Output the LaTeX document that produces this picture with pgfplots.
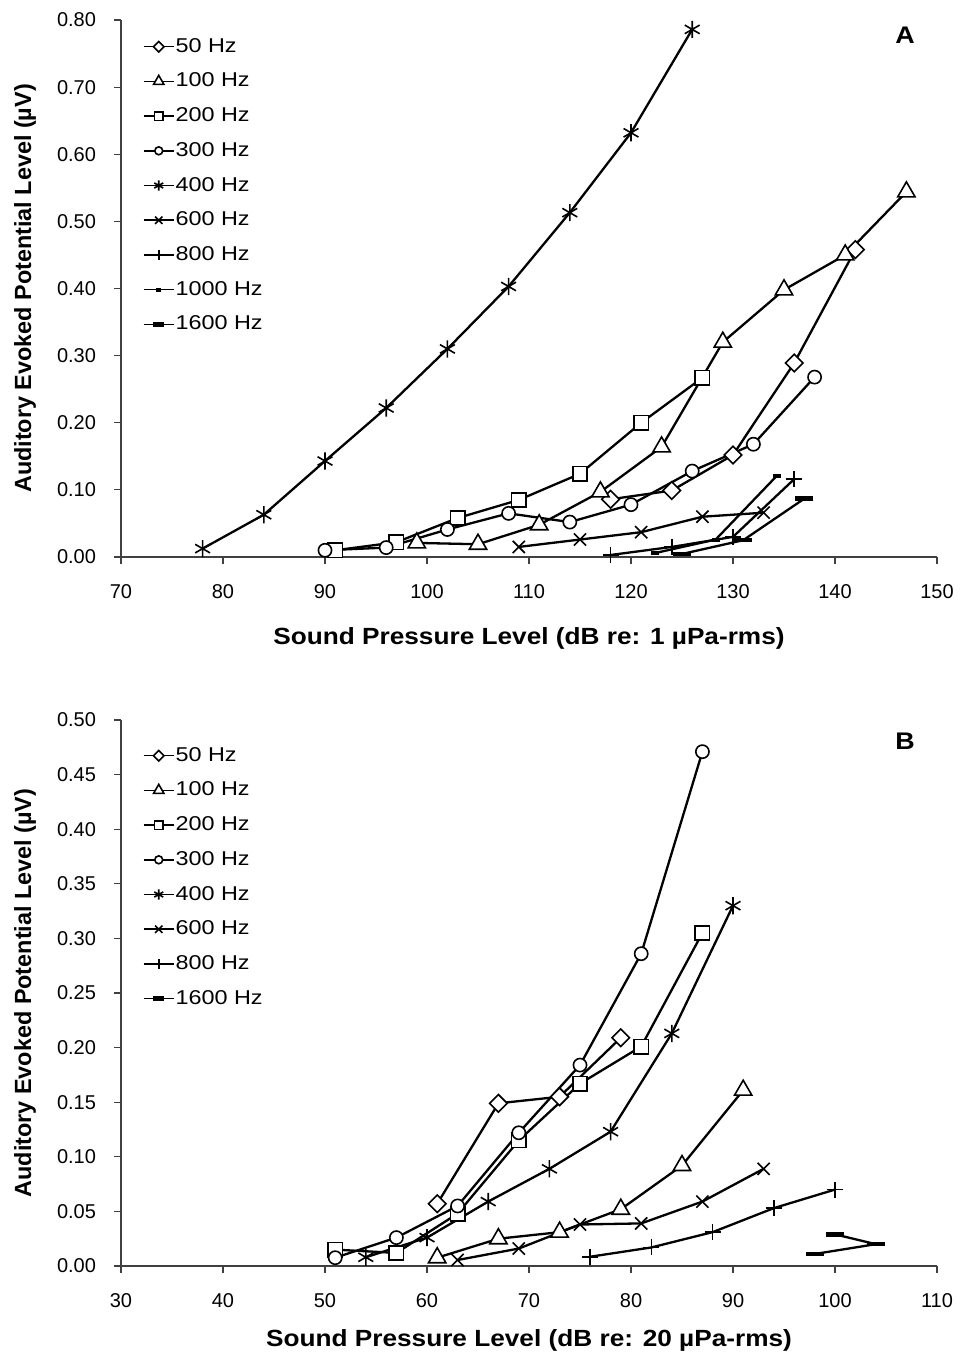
\documentclass[border=0pt]{standalone}
\usepackage{pgfplots}
\pgfplotsset{compat=1.18}
\usepackage{fontspec}
\setmainfont{Liberation Sans}
\newfontfamily\legfont{Liberation Sans}[FakeStretch=1.17]
\newfontfamily\labfont{Liberation Sans}[FakeStretch=1.12]

\pgfplotsset{
  base/.style={
    scale only axis, width=408pt,
    axis x line=bottom, axis y line=left,
    axis line style={-, black!75, line width=0.6pt},
    tick style={black!75, line width=0.6pt},
    tick align=outside, major tick length=3.5pt,
    font=\fontsize{10}{12}\selectfont,
    /pgf/number format/assume math mode=true,
    yticklabel style={xshift=-5.5pt, /pgf/number format/.cd, fixed, fixed zerofill, precision=2},
    xticklabel style={yshift=-6.5pt, /pgf/number format/.cd, fixed},
    every axis y label/.style={at={(axis description cs:-0.1176,0.5)}, rotate=90, anchor=center, font=\fontsize{11.7}{13}\selectfont\bfseries},
    every axis x label/.style={anchor=center, font=\labfont\fontsize{11.7}{13}\selectfont\bfseries},
    legend cell align=left,
    legend style={draw=none, fill=none, inner sep=0pt, outer sep=0pt, anchor=north west,
      font=\legfont\fontsize{10}{12}\selectfont, row sep=6.85pt,
      nodes={inner sep=0.5pt, text height=7.5pt, text depth=2pt}},
    legend image code/.code={
      \draw[line width=0.75pt, mark repeat=2, mark phase=2, every mark/.append style={scale=0.6}]
        plot coordinates {(0pt,0pt) (7.5pt,0pt) (15pt,0pt)};},
    every axis plot/.append style={black, line width=1.15pt},
  },
  s50/.style={mark=square*, mark size=3.1pt, mark options={solid, rotate=45, fill=white, line width=0.8pt}},
  s100/.style={mark=triangle*, mark size=5pt, mark options={solid, fill=white, line width=0.8pt}},
  s200/.style={mark=square*, mark size=3.6pt, mark options={solid, fill=white, line width=0.8pt}},
  s300/.style={mark=*, mark size=3.3pt, mark options={solid, fill=white, line width=0.8pt}},
  s400/.style={mark=asterisk, mark size=4.3pt, mark options={solid, line width=0.8pt}},
  s600/.style={mark=x, mark size=4.3pt, mark options={solid, line width=0.8pt}},
  s800/.style={mark=+, mark size=4pt, mark options={solid, line width=0.8pt}},
  s1000/.style={mark=-, mark size=2pt, mark options={solid, line width=2pt}},
  s1600/.style={mark=-, mark size=4.5pt, mark options={solid, line width=2.2pt}},
}

\begin{document}
\begin{tikzpicture}
% ---------------- Panel A ----------------
\begin{axis}[base, at={(0,0)}, anchor=south west, height=268.5pt,
  xmin=70, xmax=150, ymin=0, ymax=0.8,
  xtick={70,80,...,150}, ytick={0,0.1,...,0.8},
  xlabel={Sound Pressure Level (dB re: 1 µPa-rms)},
  ylabel={Auditory Evoked Potential Level (µV)},
  xlabel style={at={(axis description cs:0.5,-0.1508)}},
  legend style={at={(axis description cs:0,1)}, xshift=11pt, yshift=-8.1pt},
]
\addplot[s50] coordinates {(118,0.086)(124,0.099)(130,0.152)(136,0.289)(142,0.458)};
\addlegendentry{50 Hz}
\addplot[s100] coordinates {(99,0.021)(105,0.019)(111,0.048)(117,0.097)(123,0.164)(129,0.320)(135,0.398)(141,0.450)(147,0.544)};
\addlegendentry{100 Hz}
\addplot[s200] coordinates {(91,0.010)(97,0.022)(103,0.058)(109,0.085)(115,0.124)(121,0.200)(127,0.267)};
\addlegendentry{200 Hz}
\addplot[s300] coordinates {(90,0.010)(96,0.014)(102,0.041)(108,0.065)(114,0.052)(120,0.078)(126,0.128)(132,0.168)(138,0.268)};
\addlegendentry{300 Hz}
\addplot[s400] coordinates {(78,0.0125)(84,0.063)(90,0.143)(96,0.222)(102,0.310)(108,0.403)(114,0.513)(120,0.632)(126,0.786)};
\addlegendentry{400 Hz}
\addplot[s600] coordinates {(109,0.015)(115,0.026)(121,0.037)(127,0.060)(133,0.066)};
\addlegendentry{600 Hz}
\addplot[s800] coordinates {(118,0.003)(124,0.015)(130,0.030)(136,0.116)};
\addlegendentry{800 Hz}
\addplot[s1000] coordinates {(122.4,0.006)(128.3,0.026)(134.3,0.121)};
\addlegendentry{1000 Hz}
\addplot[s1600] coordinates {(125,0.0045)(131,0.025)(137,0.087)};
\addlegendentry{1600 Hz}
\node[font=\labfont\fontsize{12}{13}\selectfont\bfseries] at (axis description cs:0.961,0.972) {A};
\end{axis}
% ---------------- Panel B ----------------
\begin{axis}[base, at={(0,-354.5pt)}, anchor=south west, height=273pt,
  xmin=30, xmax=110, ymin=0, ymax=0.5,
  xtick={30,40,...,110}, ytick={0,0.05,...,0.5},
  xlabel={Sound Pressure Level (dB re: 20 µPa-rms)},
  ylabel={Auditory Evoked Potential Level (µV)},
  xlabel style={at={(axis description cs:0.5,-0.1355)}},
  legend style={at={(axis description cs:0,1)}, xshift=11pt, yshift=-12.6pt},
]
\addplot[s50] coordinates {(61,0.057)(67,0.149)(73,0.155)(79,0.209)};
\addlegendentry{50 Hz}
\addplot[s100] coordinates {(61,0.0076)(67,0.025)(73,0.031)(79,0.052)(85,0.092)(91,0.161)};
\addlegendentry{100 Hz}
\addplot[s200] coordinates {(51,0.015)(57,0.012)(63,0.048)(69,0.115)(75,0.167)(81,0.201)(87,0.305)};
\addlegendentry{200 Hz}
\addplot[s300] coordinates {(51,0.0076)(57,0.026)(63,0.055)(69,0.122)(75,0.184)(81,0.286)(87,0.471)};
\addlegendentry{300 Hz}
\addplot[s400] coordinates {(54,0.008)(60,0.026)(66,0.059)(72,0.089)(78,0.123)(84,0.213)(90,0.330)};
\addlegendentry{400 Hz}
\addplot[s600] coordinates {(63,0.0055)(69,0.016)(75,0.038)(81,0.039)(87,0.059)(93,0.089)};
\addlegendentry{600 Hz}
\addplot[s800] coordinates {(76,0.0085)(82,0.017)(88,0.031)(94,0.053)(100,0.070)};
\addlegendentry{800 Hz}
\addplot[s1600] coordinates {(98,0.011)(104,0.020)(100,0.029)};
\addlegendentry{1600 Hz}
\node[font=\labfont\fontsize{12}{13}\selectfont\bfseries] at (axis description cs:0.961,0.962) {B};
\end{axis}
\pgfresetboundingbox
\useasboundingbox (-60.5pt,-400.5pt) rectangle (420pt,278.5pt);
\end{tikzpicture}
\end{document}
